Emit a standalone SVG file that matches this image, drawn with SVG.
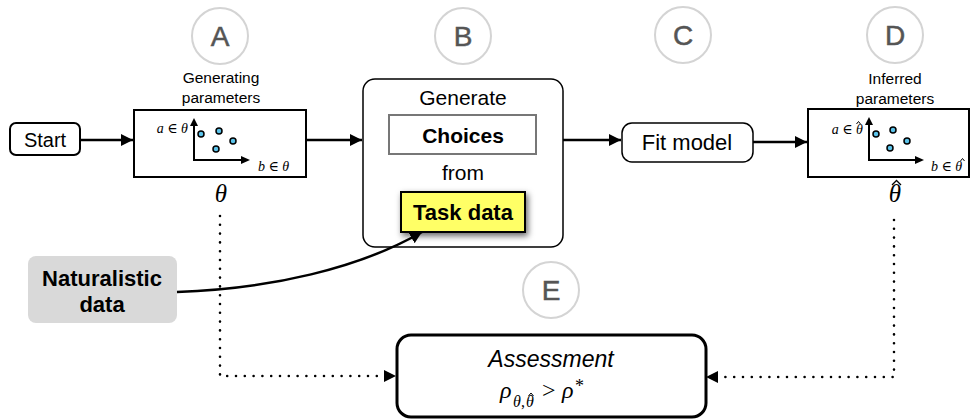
<svg xmlns="http://www.w3.org/2000/svg" width="971" height="420" viewBox="0 0 971 420">
<style>
.sans{font-family:"Liberation Sans",Arial,sans-serif;}
.serif{font-family:"Liberation Serif","DejaVu Serif",serif;font-style:italic;}
.rom{font-family:"Liberation Serif","DejaVu Serif",serif;}
.lbl{font-family:"Liberation Sans",Arial,sans-serif;font-size:28px;fill:#555;stroke:#555;stroke-width:0.5;text-anchor:middle;}
.circ{fill:#fff;stroke:#d4d4d4;stroke-width:2;}
.box{fill:#fff;stroke:#000;stroke-width:2;}
.conn{fill:none;stroke:#000;stroke-width:2.5;}
.dot{fill:none;stroke:#000;stroke-width:2.6;stroke-linecap:round;stroke-dasharray:0 8.8;}
.ax{fill:none;stroke:#000;stroke-width:2;}
.hat{fill:none;stroke:#000;stroke-width:1;}
.pt{fill:#5bc3ea;stroke:#000;stroke-width:1.5;}
.t21{font-size:21px;text-anchor:middle;}
.t16{font-size:15.5px;text-anchor:middle;}
</style>
<defs>
<marker id="ah" viewBox="0 0 10 10" refX="10" refY="5" markerWidth="12" markerHeight="12" markerUnits="userSpaceOnUse" orient="auto"><path d="M0,0 L10,5 L0,10 z" fill="#000"/></marker>
<filter id="sh" x="-30%" y="-40%" width="160%" height="190%"><feDropShadow dx="2" dy="3" stdDeviation="3" flood-color="#000" flood-opacity="0.6"/></filter>
</defs>

<g id="labels">
<g id="label-A"><circle class="circ" cx="220" cy="36" r="28"/><text class="lbl" x="220" y="46">A</text></g>
<g id="label-B"><circle class="circ" cx="463" cy="36" r="28"/><text class="lbl" x="463" y="46">B</text></g>
<g id="label-C"><circle class="circ" cx="683" cy="35" r="28"/><text class="lbl" x="683" y="45">C</text></g>
<g id="label-D"><circle class="circ" cx="895" cy="35" r="28"/><text class="lbl" x="895" y="45">D</text></g>
<g id="label-E"><circle class="circ" cx="551" cy="290" r="28"/><text class="lbl" x="551" y="300">E</text></g>
</g>

<g id="start">
<rect class="box" x="10" y="123" width="70" height="32" rx="6"/>
<text class="sans t21" x="45" y="147" style="font-size:20px">Start</text>
</g>

<g id="gen-params">
<text class="sans t16" x="221" y="83">Generating</text>
<text class="sans t16" x="221" y="103">parameters</text>
<rect class="box" x="134" y="110" width="172" height="67"/>
<path class="ax" d="M194,125 V160 H242"/>
<path d="M190,126 L194,118 L198,126 z" fill="#000"/>
<path d="M241,156 L250,160 L241,164 z" fill="#000"/>
<text class="serif" x="188" y="133" font-size="14" text-anchor="end">a ∈ θ</text>
<text class="serif" x="258" y="171" font-size="14">b ∈ θ</text>
<circle class="pt" cx="201" cy="134" r="3"/>
<circle class="pt" cx="219" cy="131" r="3"/>
<circle class="pt" cx="216" cy="149" r="3"/>
<circle class="pt" cx="233" cy="141" r="3"/>
<text class="serif" x="221" y="202" font-size="25" text-anchor="middle">θ</text>
</g>

<g id="generate">
<rect class="box" x="363" y="79" width="200" height="168" rx="12" style="stroke-width:1.5"/>
<text class="sans t21" x="463" y="105">Generate</text>
<rect x="389" y="115" width="147" height="39" fill="#fff" stroke="#777" stroke-width="2"/>
<text class="sans t21" x="463" y="143" font-weight="bold">Choices</text>
<text class="sans t21" x="463" y="180">from</text>
<rect x="401" y="192" width="124" height="40" fill="#ffff66" stroke="#000" stroke-width="2" filter="url(#sh)"/>
<text class="sans t21" x="463" y="220" font-weight="bold" style="font-size:22px">Task data</text>
</g>

<g id="fit-model">
<rect class="box" x="622" y="123" width="131" height="39" rx="10" style="stroke-width:1.5"/>
<text class="sans t21" x="687" y="150" style="font-size:22px">Fit model</text>
</g>

<g id="inferred-params">
<text class="sans t16" x="895" y="84">Inferred</text>
<text class="sans t16" x="895" y="104">parameters</text>
<rect class="box" x="808" y="109" width="161" height="68"/>
<path class="ax" d="M869,124 V160 H915"/>
<path d="M865,125 L869,117 L873,125 z" fill="#000"/>
<path d="M915,156 L924,160 L915,164 z" fill="#000"/>
<text class="serif" x="863" y="134" font-size="14" text-anchor="end">a ∈ θ</text>
<path class="hat" d="M856.5,124 L858.5,121.5 L860.5,124"/>
<text class="serif" x="931" y="171" font-size="14">b ∈ θ</text>
<path class="hat" d="M960.5,161 L962.5,158.5 L964.5,161"/>
<circle class="pt" cx="876" cy="134" r="3"/>
<circle class="pt" cx="893" cy="130" r="3"/>
<circle class="pt" cx="890" cy="148" r="3"/>
<circle class="pt" cx="907" cy="141" r="3"/>
<text class="serif" x="895" y="202" font-size="25" text-anchor="middle">θ</text>
<path class="hat" d="M892,185 L896.5,180.5 L901,185" style="stroke-width:1.3"/>
</g>

<g id="naturalistic">
<rect x="28" y="256" width="149" height="67" rx="8" fill="#d9d9d9"/>
<text class="sans t21" x="102" y="286" font-weight="bold" style="font-size:22px">Naturalistic</text>
<text class="sans t21" x="102" y="312" font-weight="bold" style="font-size:22px">data</text>
</g>

<g id="assessment">
<rect x="397" y="335" width="309" height="82" rx="14" fill="#fff" stroke="#000" stroke-width="3"/>
<text class="sans" x="551" y="367" font-size="23" font-style="italic" text-anchor="middle">Assessment</text>
<text class="serif" x="500" y="398" font-size="24">ρ</text>
<text class="serif" x="513" y="407" font-size="16">θ</text>
<text class="rom" x="521" y="407" font-size="16">,</text>
<text class="serif" x="526" y="407" font-size="16">θ</text>
<path class="hat" d="M528.5,396 L531,393 L533.5,396"/>
<text class="rom" x="542" y="398" font-size="24">&gt;</text>
<text class="serif" x="562" y="398" font-size="24">ρ</text>
<text class="rom" x="575" y="392" font-size="18">*</text>
</g>

<g id="connectors">
<line class="conn" x1="80" y1="140" x2="133" y2="140" marker-end="url(#ah)"/>
<line class="conn" x1="306" y1="140" x2="362" y2="140" marker-end="url(#ah)"/>
<line class="conn" x1="563" y1="140" x2="621" y2="140" marker-end="url(#ah)"/>
<line class="conn" x1="753" y1="142" x2="807" y2="142" marker-end="url(#ah)"/>
<path class="conn" d="M177,292 C270,289 360,268 422,232" marker-end="url(#ah)"/>
<path class="dot" d="M220,216 V376 H385"/>
<path class="dot" d="M894,220 V377 H716"/>
<path d="M384,370 L396,376 L384,382 z" fill="#000"/>
<path d="M718,371 L706,377 L718,383 z" fill="#000"/>
</g>
</svg>
